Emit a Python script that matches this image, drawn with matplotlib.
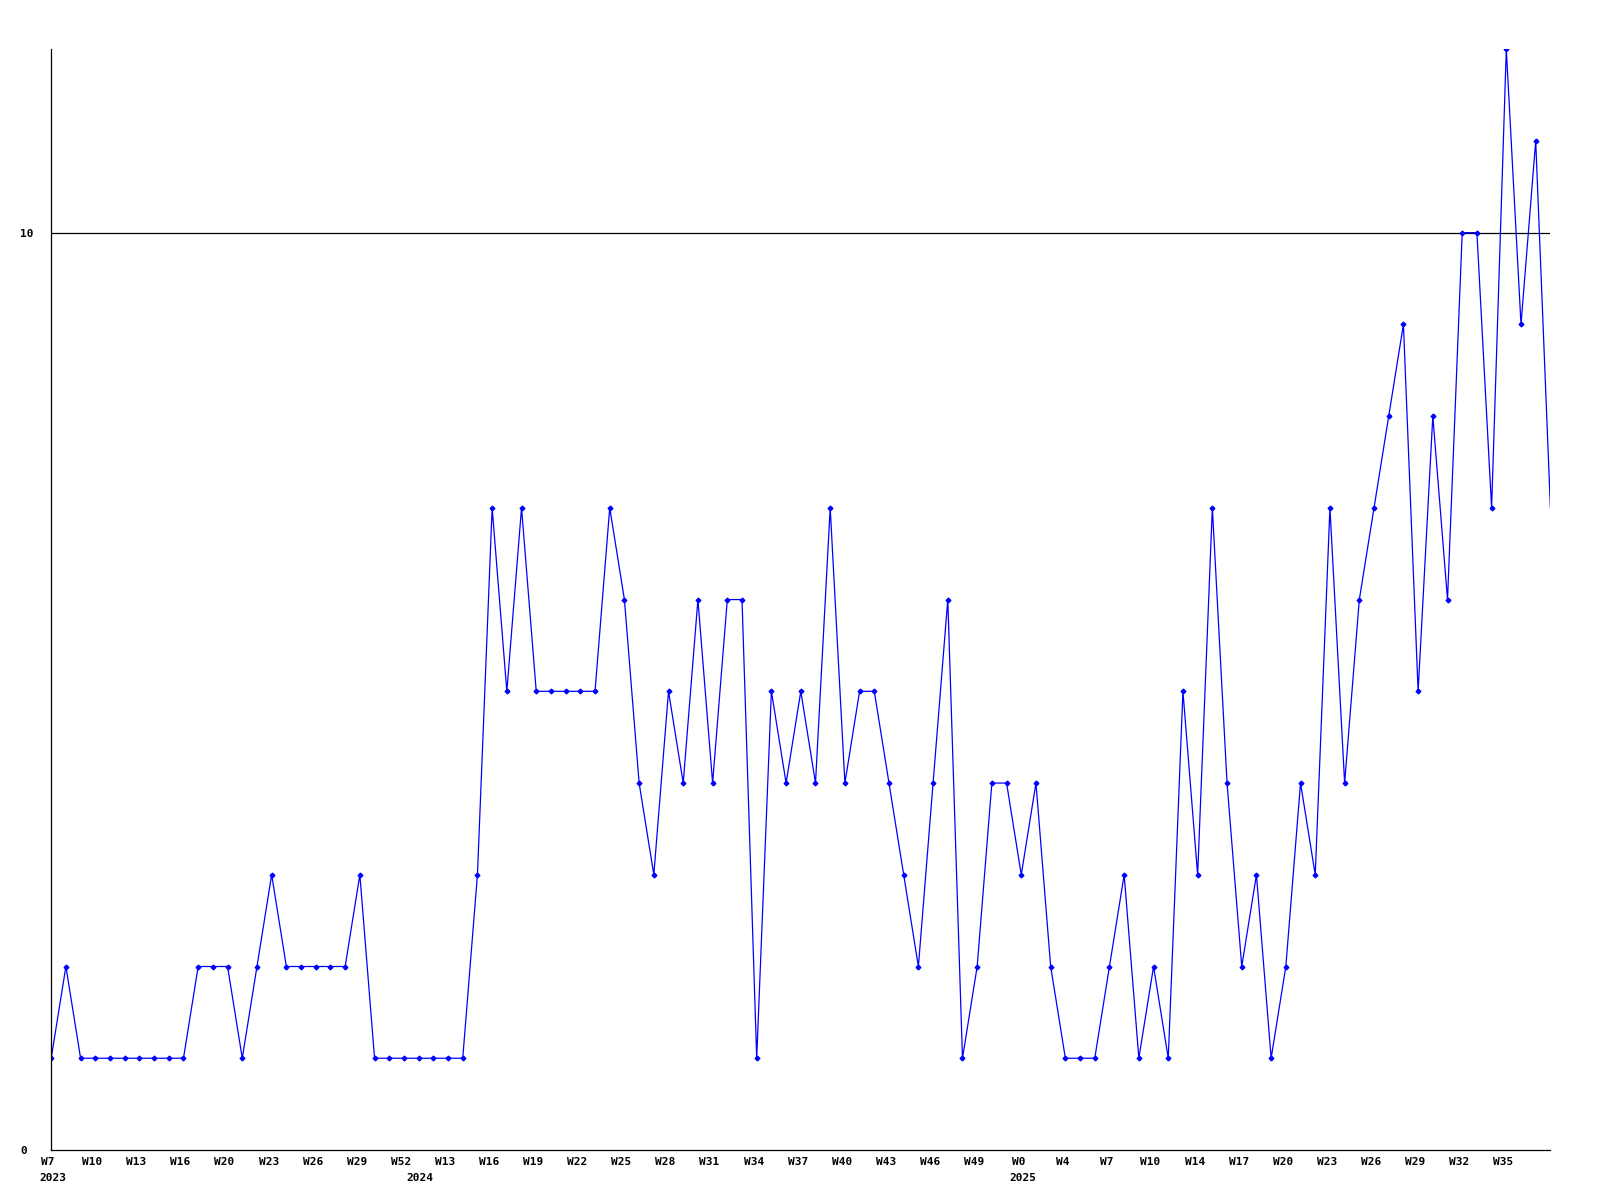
import numpy as np
import matplotlib
matplotlib.use('Agg')
import matplotlib.pyplot as plt
import matplotlib.transforms as mtransforms

# 週ごとの値（103点）
values = [1, 2, 1, 1, 1, 1, 1, 1, 1, 1,
          2, 2, 2, 1, 2, 3, 2, 2, 2, 2,
          2, 3, 1, 1, 1, 1, 1, 1, 1, 3,
          7, 5, 7, 5, 5, 5, 5, 5, 7, 6,
          4, 3, 5, 4, 6, 4, 6, 6, 1, 5,
          4, 5, 4, 7, 4, 5, 5, 4, 3, 2,
          4, 6, 1, 2, 4, 4, 3, 4, 2, 1,
          1, 1, 2, 3, 1, 2, 1, 5, 3, 7,
          4, 2, 3, 1, 2, 4, 3, 7, 4, 6,
          7, 8, 9, 5, 8, 6, 10, 10, 7, 12,
          9, 11, 7]

week_labels = ['W7', 'W10', 'W13', 'W16', 'W20', 'W23', 'W26', 'W29', 'W52',
               'W13', 'W16', 'W19', 'W22', 'W25', 'W28', 'W31', 'W34', 'W37',
               'W40', 'W43', 'W46', 'W49', 'W0', 'W4', 'W7', 'W10', 'W14',
               'W17', 'W20', 'W23', 'W26', 'W29', 'W32', 'W35']
years = ['2023', '2024', '2025']
year_pos = [0, 25, 66]

x = np.arange(len(values))
font = dict(family='DejaVu Sans Mono', fontweight='bold', fontsize=8)

fig = plt.figure(figsize=(16, 12), dpi=100)
ax = fig.add_axes([0.032, 0.0417, 0.937, 0.9173])

ax.plot(x, values, color='#0000ff', linewidth=0.9, marker='D', markersize=2.4,
        markevery=list(range(len(values) - 1)))
ax.axhline(10, color='black', linewidth=0.9, zorder=0)

ax.set_xlim(0, len(values) - 1)
ax.set_ylim(0, 12)

for s in ['top', 'right']:
    ax.spines[s].set_visible(False)
ax.spines['left'].set_linewidth(0.9)
ax.spines['bottom'].set_linewidth(0.9)

# y軸ラベルは左寄せ
ax.set_yticks([0, 10])
ax.set_yticklabels(['0', '10'], ha='left', **font)
ax.tick_params(axis='y', length=0, pad=22.5)

ax.set_xticks(x[::3][:len(week_labels)])
ax.set_xticklabels(week_labels, **font)
ax.tick_params(axis='x', length=0, pad=5)
shift = mtransforms.ScaledTranslation(-3 / 100, 0, fig.dpi_scale_trans)
for lbl in ax.get_xticklabels():
    lbl.set_transform(lbl.get_transform() + shift)

trans = mtransforms.blended_transform_factory(ax.transData, ax.transAxes)
for yr, pos in zip(years, year_pos):
    ax.text(pos + 0.1, -0.0205, yr, transform=trans, ha='center', va='top', **font)

fig.savefig('out.png', dpi=100, facecolor='white')
